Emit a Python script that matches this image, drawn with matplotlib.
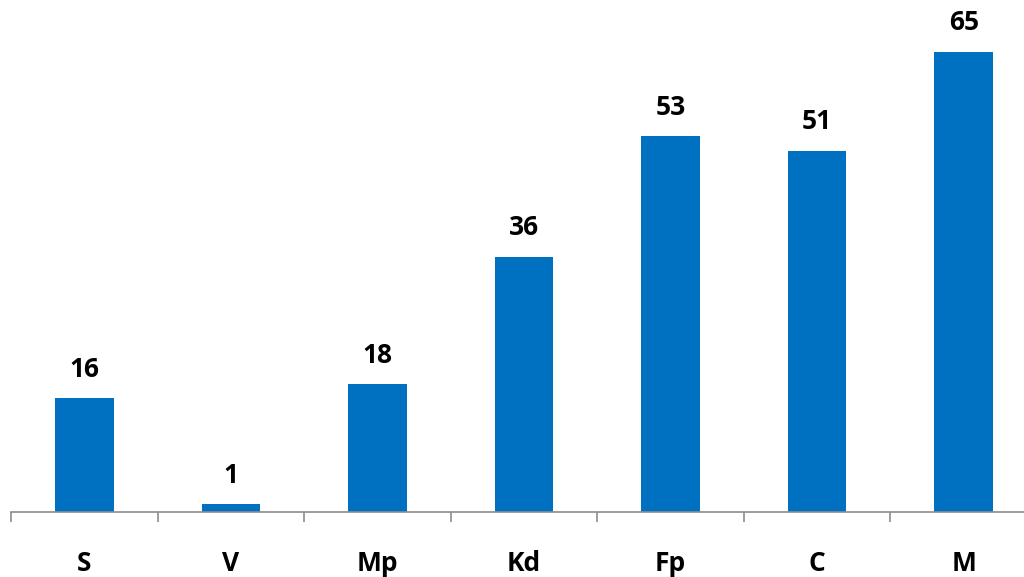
import matplotlib
matplotlib.use("Agg")
import matplotlib.pyplot as plt
import numpy as np

categories = ["S", "V", "Mp", "Kd", "Fp", "C", "M"]
values = [16, 1, 18, 36, 53, 51, 65]

bar_color = "#0070C0"
plt.rcParams['font.family'] = ['Open Sans', 'DejaVu Sans']

fig = plt.figure(figsize=(10.24, 5.77), dpi=100)
ax = fig.add_axes([11 / 1024, 65.5 / 577, 1026 / 1024, 509.5 / 577])

x = np.arange(len(categories))
bars = ax.bar(x, values, width=0.4, color=bar_color)

for xi, v in zip(x, values):
    ax.annotate(str(v), (xi, v), xytext=(0, 11), textcoords="offset points",
                ha="center", va="bottom", fontsize=19, fontweight="bold")

ax.set_xlim(-0.5, len(categories) - 0.5)
ax.set_ylim(0, 72)

ax.set_xticks(x)
ax.set_xticklabels(categories, fontsize=19, fontweight="bold")
ax.tick_params(axis="x", which="major", length=0, pad=28)
ax.set_xticks(np.arange(len(categories) + 1) - 0.5, minor=True)
ax.tick_params(axis="x", which="minor", length=7, width=1.2, color="#8c8c8c")

ax.set_yticks([])
for side in ["left", "right", "top"]:
    ax.spines[side].set_visible(False)
ax.spines["bottom"].set_color("#8c8c8c")
ax.spines["bottom"].set_linewidth(1.2)

fig.savefig("out.png", dpi=100)
